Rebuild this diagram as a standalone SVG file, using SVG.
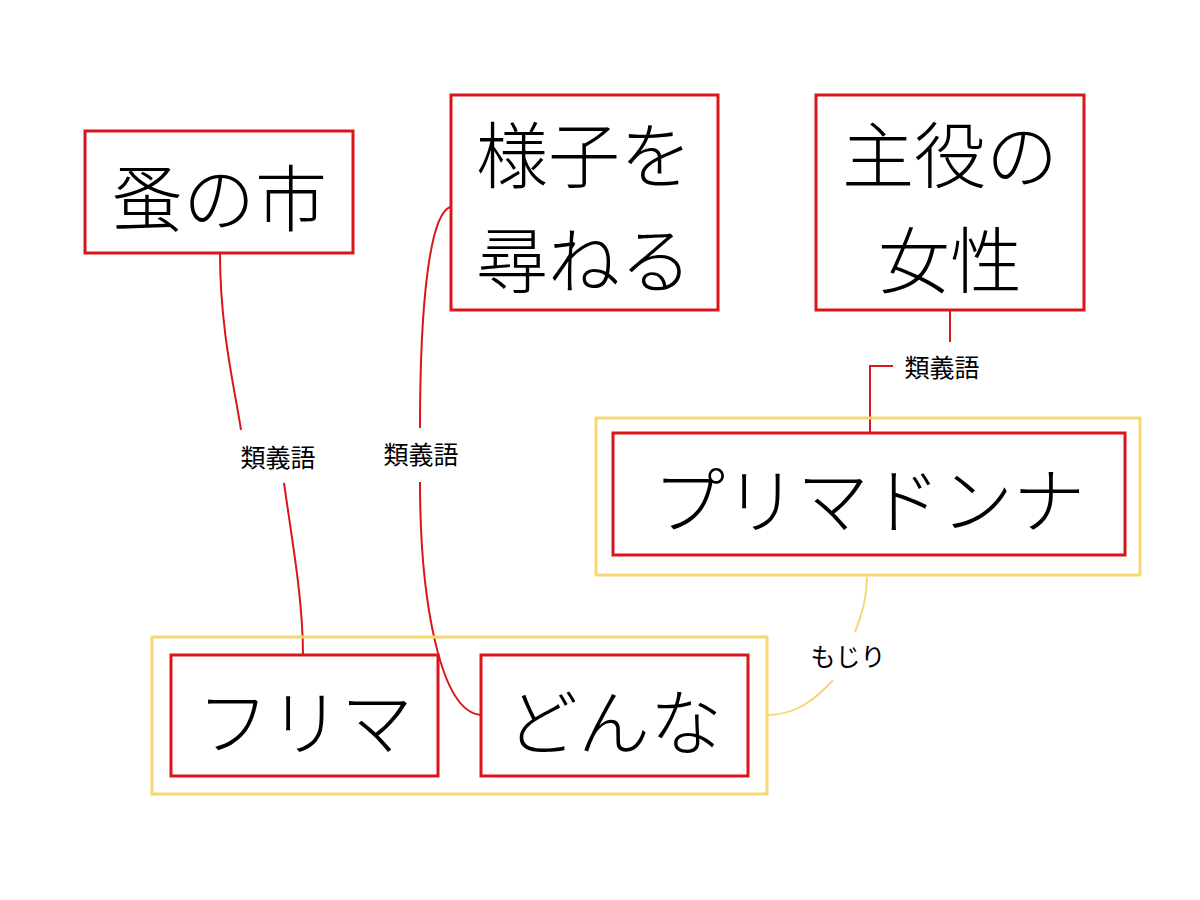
<svg xmlns="http://www.w3.org/2000/svg" width="1200" height="900" viewBox="0 0 1200 900">
<style>
.r{fill:#fff;stroke:#d9161c;stroke-width:3}
.y{fill:none;stroke:#f5d774;stroke-width:3}
.t{font-family:"Noto Sans CJK JP",sans-serif;font-weight:300;font-size:72px;fill:#000;text-anchor:middle;dominant-baseline:central}
.l{font-family:"Noto Sans CJK JP",sans-serif;font-size:25px;fill:#000;text-anchor:middle;dominant-baseline:central}
.cr{fill:none;stroke:#d9161c;stroke-width:2}
.cy{fill:none;stroke:#f5d774;stroke-width:2}
</style>
<rect width="1200" height="900" fill="#fff"/>
<g id="connectors">
<path class="cr" d="M220,253 C220,330 235,390 241,430"/>
<path class="cr" d="M284,483 C292,540 303,600 303,655"/>
<text class="l" x="278" y="456">類義語</text>
<path class="cr" d="M450,207 C430,215 420,300 420,428"/>
<path class="cr" d="M420,482 C420,600 440,712 481,715"/>
<text class="l" x="421" y="453">類義語</text>
<path class="cr" d="M950,310 V342"/>
<path class="cr" d="M893,366 H870 V433"/>
<text class="l" x="942" y="366">類義語</text>
<path class="cy" d="M867,577 C867,600 860,620 855,632"/>
<path class="cy" d="M833,680 C815,700 795,715 768,715"/>
<text class="l" x="848" y="655">もじり</text>
</g>
<g id="n1"><rect class="r" x="85" y="131" width="268" height="122"/><text class="t" x="219" y="193">蚤の市</text></g>
<g id="n2"><rect class="r" x="451" y="95" width="267" height="215"/><text class="t" x="584" y="150">様子を</text><text class="t" x="584" y="255">尋ねる</text></g>
<g id="n3"><rect class="r" x="816" y="95" width="268" height="215"/><text class="t" x="950" y="150">主役の</text><text class="t" x="950" y="255">女性</text></g>
<g id="g1"><rect class="y" x="596" y="418" width="544" height="157"/><rect class="r" x="613" y="433" width="512" height="122"/><text class="t" x="869" y="495">プリマドンナ</text></g>
<g id="g2"><rect class="y" x="152" y="637" width="615" height="157"/>
<g id="n5"><rect class="r" x="171" y="655" width="267" height="121"/><text class="t" x="305" y="717">フリマ</text></g>
<g id="n6"><rect class="r" x="481" y="655" width="267" height="121"/><text class="t" x="614" y="717">どんな</text></g></g>
</svg>
